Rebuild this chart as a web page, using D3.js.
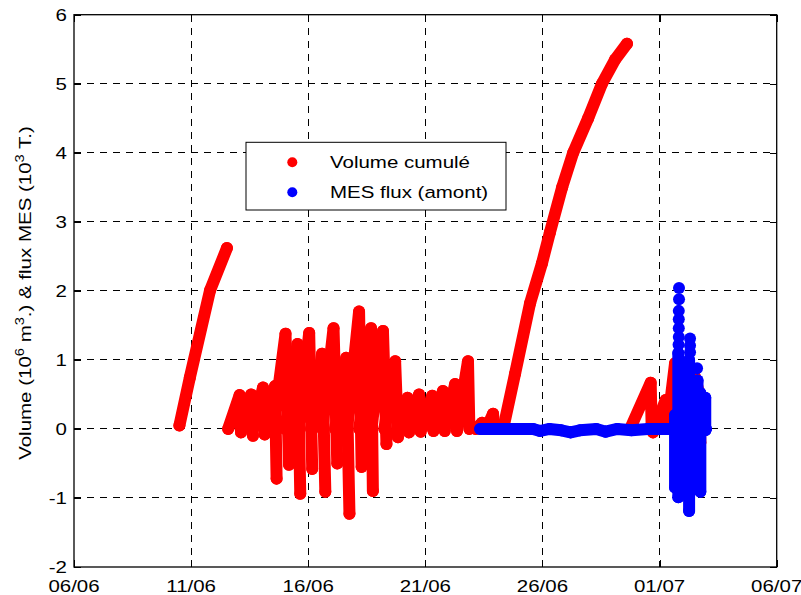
<!DOCTYPE html>
<html>
<head>
<meta charset="utf-8">
<script src="https://cdn.jsdelivr.net/npm/d3@7"></script>
<style>
  body { margin: 0; background: #fff; }
  svg { display: block; }
  text { font-family: "Liberation Sans", Arial, Helvetica, sans-serif; fill: #000; }
</style>
</head>
<body>
<svg id="chart" width="801" height="595"></svg>
<script>
// Axis ticks: days counted from 1 June (01/07 = day 31)
const xTickDays = [6, 11, 16, 21, 26, 31, 36];
const xTickLabels = ["06/06", "11/06", "16/06", "21/06", "26/06", "01/07", "06/07"];
const yTicks = [-2, -1, 0, 1, 2, 3, 4, 5, 6];

// Volume cumulé (10^6 m3) — each run is a continuous stretch of [day, value]
const volumeRise1 = [[10.50, 0.05], [10.95, 0.75], [11.81, 2.01], [12.53, 2.62]];

const volumeTides = [
  [[12.58, 0], [13.07, 0.49], [13.13, -0.05]],
  [[13.12, 0], [13.56, 0.50], [13.64, -0.10]],
  [[13.64, 0], [14.07, 0.60], [14.14, -0.08]],
  [[14.14, 0], [14.58, 0.62], [14.65, -0.72]],
  [[14.50, 0], [15.03, 1.38], [15.18, -0.52]],
  [[15.02, 0], [15.54, 1.23], [15.66, -0.94]],
  [[15.58, 0], [16.04, 1.39], [16.17, -0.58]],
  [[16.12, 0], [16.59, 1.09], [16.73, -0.91]],
  [[16.60, 0], [17.08, 1.46], [17.24, -0.50]],
  [[17.15, 0], [17.62, 1.03], [17.76, -1.23]],
  [[17.66, 0], [18.17, 1.70], [18.28, -0.55]],
  [[18.18, 0], [18.68, 1.46], [18.76, -0.90]],
  [[18.70, 0], [19.19, 1.42], [19.34, -0.22]],
  [[19.25, 0], [19.71, 0.98], [19.83, -0.12]],
  [[19.82, 0], [20.24, 0.45], [20.30, -0.05]],
  [[20.30, 0], [20.73, 0.50], [20.80, -0.04]],
  [[20.82, 0], [21.29, 0.48], [21.35, -0.03]],
  [[21.33, 0], [21.75, 0.55], [21.83, -0.03]],
  [[21.82, 0], [22.27, 0.65], [22.35, -0.03]],
  [[22.35, 0], [22.82, 0.98], [22.88, 0.00]],
  [[23.15, 0], [23.42, 0.09]],
  [[23.60, 0], [23.89, 0.22], [23.95, 0.00]]
];

const volumeRise2 = [[24.32, 0], [24.83, 0.80], [25.47, 1.82], [25.98, 2.40], [26.32, 2.85],
  [26.84, 3.50], [27.31, 4.00], [27.95, 4.50], [28.54, 5.00], [29.10, 5.35], [29.61, 5.58]];

const volumeLate = [
  [[29.74, 0], [30.62, 0.67], [30.66, 0.05]],
  [[30.72, -0.05], [31.26, 0.42], [31.30, 0.00]],
  [[31.30, 0], [31.48, 0.45], [31.66, 0.95], [31.72, -0.45]],
  [[31.85, 0], [32.20, 0.85], [32.50, 0.76], [32.70, 0.50], [32.74, -0.20]],
  [[32.22, 0], [32.27, -0.30]]
];

// MES flux amont (10^3 T)
const mesBase = [[23.34, 0], [25.60, 0], [25.90, -0.03], [26.30, 0], [26.80, -0.02], [27.20, -0.05],
  [27.60, -0.02], [28.30, 0], [28.70, -0.04], [29.20, 0], [29.80, -0.02], [30.50, 0], [32.98, 0]];

const mesSpikes = [
  [[31.66, 0.20], [31.66, -0.85]],
  [[31.80, 1.10], [31.80, -0.99]],
  [[32.26, 1.00], [32.26, -1.19]],
  [[32.62, 0.70], [32.62, 0.00]],
  [[32.74, 0.52], [32.74, -0.91]],
  [[32.95, 0.45], [32.95, -0.02]]
];

const mesDots = [[31.81, 1.22], [31.82, 1.33], [31.82, 1.46], [31.82, 1.59], [31.82, 1.71],
  [31.83, 1.88], [31.83, 2.04], [32.30, 1.11], [32.30, 1.21], [32.30, 1.31], [32.60, 0.88]];

const legendItems = [
  { label: "Volume cumulé", color: "#ff0000" },
  { label: "MES flux (amont)", color: "#0000ff" }
];

// ---- layout ----
const svg = d3.select("#chart");
const plot = { left: 74, right: 776.7, top: 14.7, bottom: 567 };
const FONT = 16.8, STRETCH = 1.22, R = 6;

const x = d3.scaleLinear().domain([6, 36]).range([plot.left, plot.right]);
const y = d3.scaleLinear().domain([-2, 6]).range([plot.bottom, plot.top]);

function label(g, str, px, py, anchor) {
  return g.append("text")
    .attr("transform", `translate(${px},${py}) scale(${STRETCH},1)`)
    .attr("text-anchor", anchor)
    .attr("font-size", FONT)
    .text(str);
}

// grid
const grid = svg.append("g").attr("stroke", "#000").attr("stroke-width", 1)
  .attr("stroke-dasharray", "7,6").attr("shape-rendering", "crispEdges");
grid.selectAll(null).data(xTickDays.slice(1, -1)).join("line")
  .attr("x1", d => x(d)).attr("x2", d => x(d)).attr("y1", plot.top).attr("y2", plot.bottom);
grid.selectAll(null).data(yTicks.slice(1, -1)).join("line")
  .attr("x1", plot.left).attr("x2", plot.right).attr("y1", d => y(d)).attr("y2", d => y(d));

// series
const line = d3.line().x(d => x(d[0])).y(d => y(d[1]));
function drawRuns(g, runs, color) {
  g.selectAll(null).data(runs).join("path")
    .attr("d", line).attr("fill", "none").attr("stroke", color)
    .attr("stroke-width", 2 * R).attr("stroke-linecap", "round").attr("stroke-linejoin", "round");
  g.selectAll(null).data(runs.flat()).join("circle")
    .attr("cx", d => x(d[0])).attr("cy", d => y(d[1])).attr("r", R).attr("fill", color);
}
function drawDots(g, pts, color) {
  g.selectAll(null).data(pts).join("circle")
    .attr("cx", d => x(d[0])).attr("cy", d => y(d[1])).attr("r", R).attr("fill", color);
}

const red = svg.append("g");
drawRuns(red, [volumeRise1], "#ff0000");
drawRuns(red, volumeTides, "#ff0000");
drawRuns(red, [volumeRise2], "#ff0000");
drawRuns(red, volumeLate, "#ff0000");

const blue = svg.append("g");
drawRuns(blue, [mesBase], "#0000ff");
drawRuns(blue, mesSpikes, "#0000ff");
drawDots(blue, mesDots, "#0000ff");

// axes (ticks inward on all four sides)
const axisG = svg.append("g").attr("shape-rendering", "crispEdges");
axisG.append("g").attr("transform", `translate(0,${plot.bottom})`)
  .call(d3.axisBottom(x).tickValues(xTickDays).tickSizeInner(-7).tickSizeOuter(0).tickFormat(""));
axisG.append("g").attr("transform", `translate(0,${plot.top})`)
  .call(d3.axisTop(x).tickValues(xTickDays).tickSizeInner(-7).tickSizeOuter(0).tickFormat(""));
axisG.append("g").attr("transform", `translate(${plot.left},0)`)
  .call(d3.axisLeft(y).tickValues(yTicks).tickSizeInner(-7).tickSizeOuter(0).tickFormat(""));
axisG.append("g").attr("transform", `translate(${plot.right},0)`)
  .call(d3.axisRight(y).tickValues(yTicks).tickSizeInner(-7).tickSizeOuter(0).tickFormat(""));
axisG.selectAll(".domain").remove();
axisG.selectAll("line").attr("stroke", "#000");

svg.append("rect")
  .attr("x", plot.left).attr("y", plot.top)
  .attr("width", plot.right - plot.left).attr("height", plot.bottom - plot.top)
  .attr("fill", "none").attr("stroke", "#000").attr("stroke-width", 1.3);

// tick labels
const tl = svg.append("g");
xTickDays.forEach((d, i) => label(tl, xTickLabels[i], x(d), 591.5, "middle"));
yTicks.forEach(v => label(tl, String(v), plot.left - 7, y(v) + 6, "end"));

// y axis title with superscripts
const yt = svg.append("text")
  .attr("transform", `translate(31,293) rotate(-90) scale(${STRETCH},1)`)
  .attr("text-anchor", "middle").attr("font-size", FONT);
const parts = [["Volume (10", 0], ["6", 1], [" m", 0], ["3", 1], [".) & flux MES (10", 0], ["3", 1], [" T.)", 0]];
let lastSup = 0;
parts.forEach(([s, sup]) => {
  const dy = sup === lastSup ? 0 : (sup ? -7 : 7);
  yt.append("tspan").attr("dy", dy).attr("font-size", sup ? 12 : FONT).text(s);
  lastSup = sup;
});

// legend
const lg = svg.append("g");
lg.append("rect").attr("x", 246).attr("y", 142.3).attr("width", 260).attr("height", 67.7)
  .attr("fill", "#fff").attr("stroke", "#000").attr("stroke-width", 1);
legendItems.forEach((it, i) => {
  const cy = 162.3 + i * 30;
  lg.append("circle").attr("cx", 292.3).attr("cy", cy).attr("r", 5).attr("fill", it.color);
  label(lg, it.label, 330, cy + 6, "start");
});
</script>
</body>
</html>
